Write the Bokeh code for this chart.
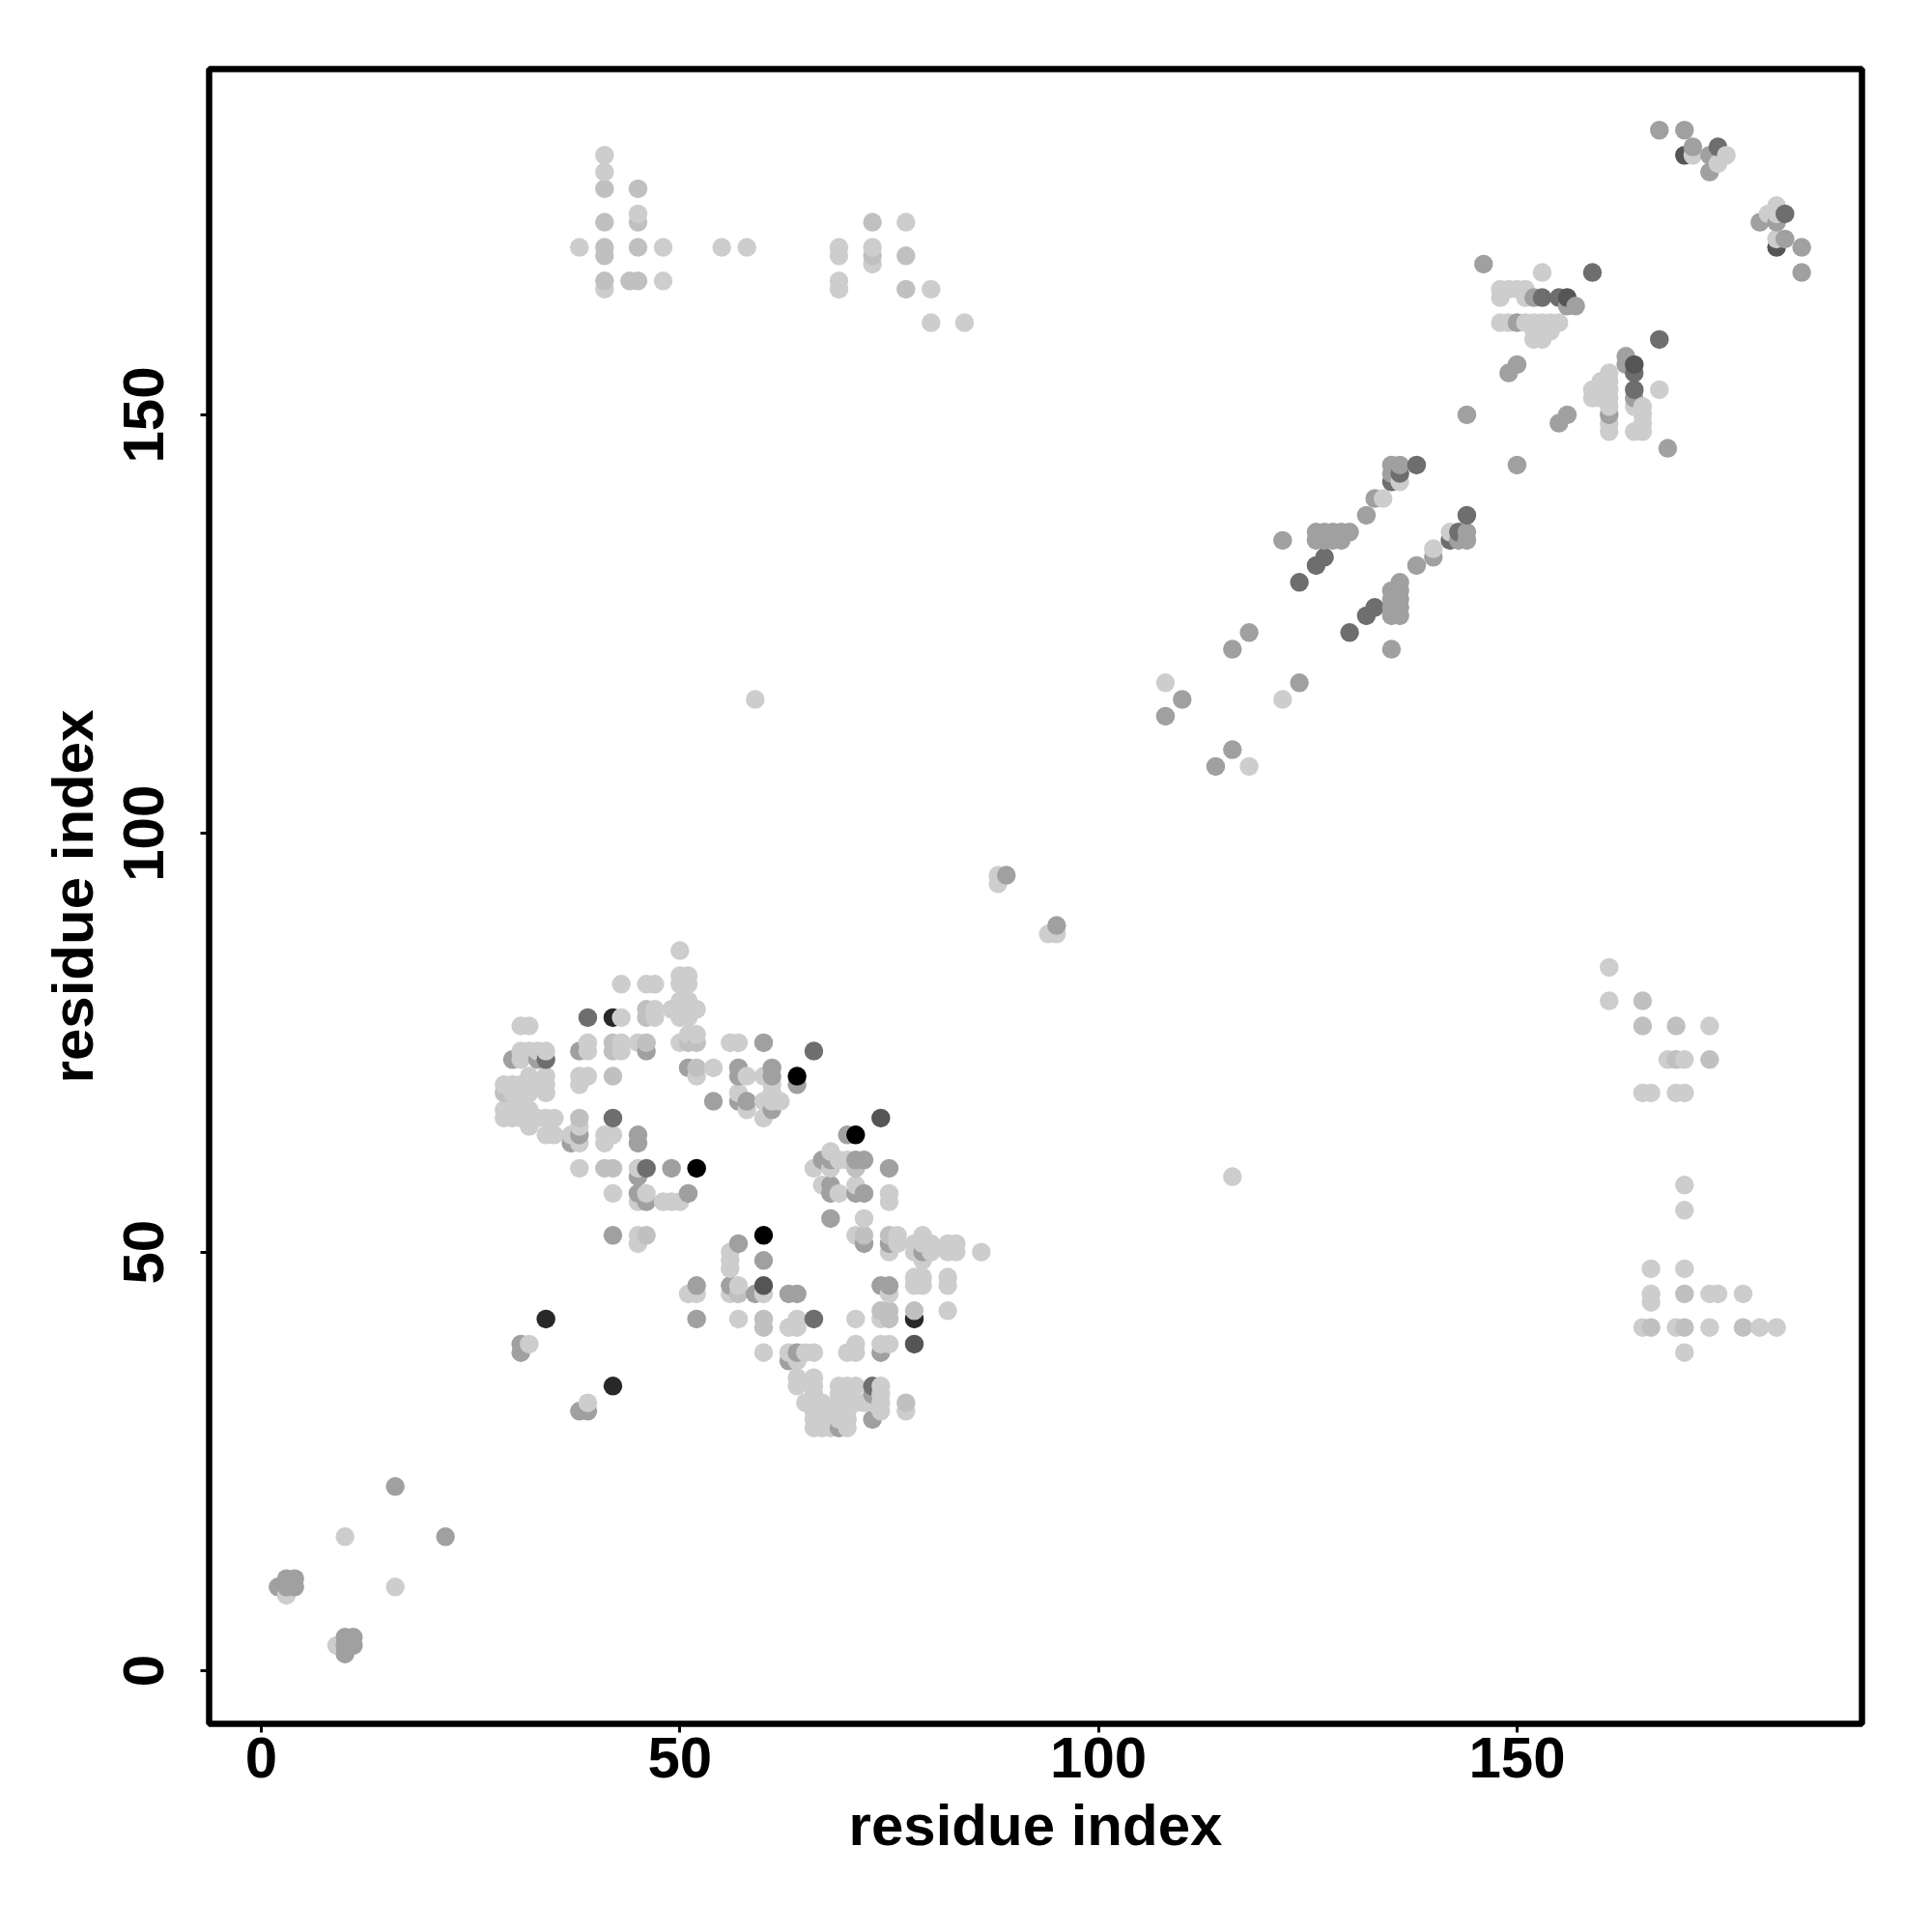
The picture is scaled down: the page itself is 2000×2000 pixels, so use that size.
from bokeh.plotting import figure
from bokeh.models import ColumnDataSource, FixedTicker, Range1d
from bokeh.embed import file_html
from bokeh.resources import INLINE

tick_values = [0, 50, 100, 150]
x_title = "residue index"
y_title = "residue index"

# residue pairs grouped by grey level (0-255)
grey_205 = [
 (43,82),(46,82),(47,82),(43,78),(47,79),(47,78),(31,77),(32,77),(39,75),(39,74),(43,75),(43,74),(45,75),
 (31,74),(32,74),(33,74),(34,74),(31,73),(32,71),(34,71),(39,71),(38,71),(38,70),(29,70),(30,70),(31,70),(32,70),(33,70),(34,70),
 (30,69),(31,69),(32,69),(34,69),(29,67),(30,67),(31,67),(32,67),(29,66),(30,66),(31,66),(32,66),(33,66),(34,66),(35,66),(32,65),
 (38,65),(38,63),(37,64),(34,64),(35,64),(42,64),(41,64),(41,63),(38,60),(45,60),(42,57),(46,57),(45,56),(45,52),
 (50,86),(50,83),(51,83),(50,82),(51,82),(50,80),(51,80),(49,79),(50,79),(51,79),(52,79),(50,78),(51,78),(51,76),(52,76),(50,75),
 (56,75),(57,75),(54,72),(52,71),(58,71),(60,71),(61,70),(57,69),(58,67),(60,68),(61,69),(61,68),(62,68),(60,66),
 (68,62),(69,61),(70,61),(66,60),(68,60),(67,58),(69,57),(71,58),(75,57),(75,56),(72,54),(48,56),(49,56),(50,56),
 (45,51),(56,50),(56,49),(56,48),(51,45),(52,45),(57,46),(56,45),(60,45),(57,42),(63,41),(64,42),(64,41),(71,42),(74,43),(74,42),(82,43),
 (75,45),(78,47),(79,47),(78,46),(79,46),(82,47),(82,46),(71,52),(76,52),(76,51),(75,50),(78,51),(78,50),(79,52),(79,51),(79,49),(80,51),(80,50),
 (82,51),(83,51),(82,50),(83,50),(86,50),(60,38),(63,38),(64,37),(65,38),(66,38),(70,38),(71,39),(71,38),(74,39),(75,39),
 (64,35),(64,34),(66,35),(66,34),(65,32),(66,33),(66,32),(66,31),(66,30),(66,29),(67,32),(67,31),(67,30),(67,29),(69,34),(70,34),(71,34),(74,34),(74,33),
 (69,33),(69,32),(69,31),(69,30),(70,33),(70,32),(70,31),(70,30),(70,29),(71,32),(72,32),(73,32),(74,32),(74,31),(77,31),(68,31),(68,30),(68,29),
 (32,39),(39,32),(88,95),(88,94),(94,88),(95,88),(59,116),(116,59),(108,118),(118,108),(122,116),
 (136,142),(134,140),(142,136),(140,134),
 (148,165),(149,165),(150,165),(151,165),(148,164),(151,164),(153,167),(148,161),(149,161),(151,161),(152,161),(153,161),(154,161),(155,161),
 (152,160),(153,160),(154,160),(152,159),(153,159),(167,153),
 (161,155),(160,154),(161,154),(159,153),(160,153),(161,153),(159,152),(160,152),(161,152),(161,151),(161,149),(161,148),
 (164,151),(165,151),(165,150),(165,149),(164,148),(165,148),
 (171,181),(175,181),(174,180),(181,175),(180,174),(181,174),(181,171),
 (48,170),(55,170),(58,170),(41,165),(48,166),(69,170),(69,169),(77,173),(69,166),(69,165),(80,165),(84,161),(77,165),(80,161),
 (41,181),(41,179),(38,170),(45,174),(73,170),(73,168),
 (161,84),(161,80),(165,69),(166,69),(169,69),(170,69),(168,73),(170,73),(173,77),(170,58),(170,55),(166,48),(170,48),(166,45),(166,44),
 (174,45),(165,41),(169,41),(179,41),(181,41),(170,38),(177,45),(173,41),(173,45),
 (10,16),(16,10),(3,9),(9,3),
]
grey_192 = [
 (46,79),(39,78),(42,75),(42,74),(46,75),(42,71),(38,66),(42,60),(41,60),(46,78),(52,75),(51,75),(52,72),(46,74),(29,69),
 (71,60),(75,52),(72,52),(74,43),(75,43),(75,42),(78,43),(77,32),(46,52),(57,45),(52,46),(60,42),(60,41),
 (41,177),(45,177),(41,173),(45,173),(41,170),(41,169),(45,170),(41,166),(44,166),(45,166),(73,173),(77,169),(73,169),(77,165),
 (165,80),(165,77),(169,77),(169,73),(173,73),(170,45),(166,41),(170,41),(177,41),
]
grey_160 = [
 (38,74),(33,73),(30,73),(38,64),(37,63),(45,64),(45,63),(45,59),(45,57),(46,56),(42,52),(46,74),(60,75),(51,72),(57,72),(57,71),(61,72),(61,71),
 (54,68),(57,68),(58,68),(61,67),(64,70),(70,64),(67,61),(68,61),(71,61),(72,61),(75,60),(68,58),(68,57),(71,57),(72,57),(68,54),(49,60),(51,57),
 (72,51),(57,51),(60,49),(52,46),(56,46),(59,45),(63,45),(64,45),(74,46),(75,46),(52,42),(63,37),(64,38),(74,38),(73,33),(73,30),(69,29),(31,39),(31,38),(38,31),(39,31),
 (75,51),(79,50),(16,22),(22,16),(2,10),(3,11),(4,11),(3,10),(4,10),(10,4),(11,4),(10,3),(11,3),(10,2),
 (95,89),(89,95),(108,114),(110,116),(114,108),(116,110),(116,122),(118,124),(124,118),
 (135,144),(136,144),(135,143),(133,140),(132,138),(122,135),(126,136),(127,136),(128,136),(129,136),(130,136),(126,135),(127,135),(128,135),(129,135),
 (144,136),(143,135),(144,135),(140,133),(138,132),(136,130),(135,129),(136,129),(135,128),(136,128),(135,127),(136,127),(135,126),(136,126),(135,122),
 (146,168),(152,164),(156,163),(157,163),(150,161),(150,156),(149,155),(144,150),(156,150),(155,149),(150,144),(163,157),(163,156),(168,146),(161,150),(164,152),
 (167,184),(170,184),(171,182),(173,181),(173,179),(181,173),(179,173),(182,171),(184,170),(184,167),
]
grey_110 = [
 (39,78),(34,73),(42,66),(46,60),(66,74),(60,46),(66,42),(73,34),(138,144),(136,143),(135,142),(127,133),(126,132),(124,130),(144,138),(143,136),(142,135),
 (133,127),(132,126),(130,124),(153,164),(155,164),(159,167),(167,159),(164,155),(164,153),(174,182),(182,174),
]
grey_85 = [(74,66),(156,164),(164,156),(170,181),(181,170),(78,39),(60,46)]
grey_40 = [(42,78),(42,34),(34,42),(78,42)]
grey_0 = [(64,71),(71,64),(52,60),(60,52)]

levels = [(205, grey_205), (192, grey_192), (160, grey_160), (110, grey_110), (85, grey_85), (40, grey_40), (0, grey_0)]
# later groups win when one pair was read twice
cells = {}
for g, pts in levels:
    for xy in pts:
        cells[xy] = g
ordered = sorted(cells)
xs = [k[0] for k in ordered]
ys = [k[1] for k in ordered]
cols = ["#%02x%02x%02x" % (cells[k], cells[k], cells[k]) for k in ordered]
src = ColumnDataSource(dict(x=xs, y=ys, c=cols))

p = figure(frame_width=1711, frame_height=1713, min_border_left=216, min_border_top=71,
           min_border_right=40, min_border_bottom=120,
           x_range=Range1d(-6.23, 191.2), y_range=Range1d(-6.35, 191.3),
           toolbar_location=None, output_backend="svg", background_fill_color="white")
p.scatter("x", "y", source=src, size=19.5, color="c", line_color=None, marker="circle")

p.grid.visible = False
p.outline_line_color = "black"
p.outline_line_width = 6.5
for ax, title in ((p.xaxis[0], x_title), (p.yaxis[0], y_title)):
    ax.ticker = FixedTicker(ticks=tick_values)
    ax.minor_tick_line_color = None
    ax.axis_line_color = None
    ax.major_tick_in = 0
    ax.major_tick_out = 9
    ax.major_tick_line_width = 3
    ax.major_tick_line_color = "black"
    ax.major_label_text_font = "Liberation Sans"
    ax.major_label_text_font_style = "bold"
    ax.major_label_text_font_size = "60px"
    ax.major_label_text_color = "black"
    ax.axis_label = title
    ax.axis_label_text_font = "Liberation Sans"
    ax.axis_label_text_font_style = "bold"
    ax.axis_label_text_font_size = "60px"
    ax.axis_label_text_color = "black"
p.xaxis[0].major_label_standoff = 5
p.xaxis[0].axis_label_standoff = 13
p.yaxis[0].major_label_standoff = 38
p.yaxis[0].axis_label_standoff = 17
p.yaxis[0].major_label_orientation = "vertical"

open("out.html", "w").write(file_html(p, INLINE))
